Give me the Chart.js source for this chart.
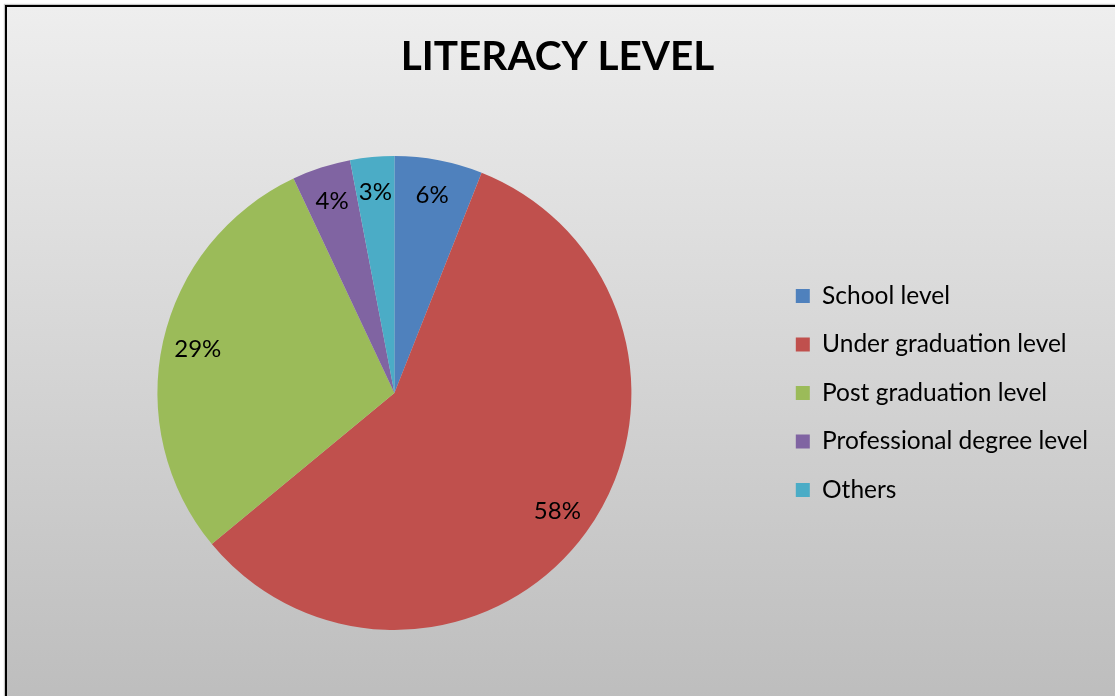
<!DOCTYPE html>
<html>
<head>
    <title>Literacy Level</title>
    <script src="https://cdn.jsdelivr.net/npm/chart.js"></script>
    <style>
        html, body {
            margin: 0;
            padding: 0;
            width: 1115px;
            height: 696px;
            overflow: hidden;
            background: #ffffff;
        }
        #frame {
            position: absolute;
            left: 5px;
            top: 5px;
            width: 1130px;
            height: 710px;
            border: 2px solid #000000;
            box-shadow: -1px -1px 1px #c8c8c8;
            background: linear-gradient(to bottom, #eeeeee 0%, #bcbcbc 100%);
        }
        #literacyChart {
            position: absolute;
            left: 0;
            top: 0;
        }
    </style>
</head>
<body>
    <div id="frame"></div>
    <canvas id="literacyChart" width="1115" height="696"></canvas>

    <script>
        const categories = [
            "School level",
            "Under graduation level",
            "Post graduation level",
            "Professional degree level",
            "Others"
        ];
        const shares = [6, 58, 29, 4, 3];
        const sliceColors = ["#4F81BD", "#C0504D", "#9BBB59", "#8064A2", "#4BACC6"];

        const fontFamily = "Lato, 'Open Sans', sans-serif";

        // percentage text drawn inside each slice
        const sliceLabels = {
            id: "sliceLabels",
            afterDatasetsDraw(chart) {
                const ctx = chart.ctx;
                const meta = chart.getDatasetMeta(0);
                ctx.save();
                ctx.font = "24px " + fontFamily;
                ctx.fillStyle = "#000000";
                ctx.textAlign = "center";
                ctx.textBaseline = "middle";
                meta.data.forEach((arc, i) => {
                    const p = arc.getProps(["x", "y", "startAngle", "endAngle", "outerRadius"], true);
                    const mid = (p.startAngle + p.endAngle) / 2;
                    const r = p.outerRadius * 0.85;
                    ctx.fillText(shares[i] + "%", p.x + Math.cos(mid) * r, p.y + Math.sin(mid) * r);
                });
                ctx.restore();
            }
        };

        new Chart(document.getElementById("literacyChart"), {
            type: "pie",
            data: {
                labels: categories,
                datasets: [{
                    data: shares,
                    backgroundColor: sliceColors,
                    borderWidth: 0
                }]
            },
            options: {
                responsive: false,
                animation: false,
                layout: {
                    padding: { left: 17, right: 17, top: 0, bottom: 66 }
                },
                plugins: {
                    title: {
                        display: true,
                        text: "LITERACY LEVEL",
                        color: "#000000",
                        font: { family: fontFamily, size: 40.5, weight: "bold", lineHeight: 1.2 },
                        padding: { top: 33, bottom: 74.4 }
                    },
                    legend: {
                        position: "right",
                        fullSize: false,
                        labels: {
                            color: "#000000",
                            font: { family: fontFamily, size: 24.5, lineHeight: 1.2 },
                            boxWidth: 14,
                            boxHeight: 14,
                            padding: 24
                        }
                    },
                    tooltip: { enabled: false }
                }
            },
            plugins: [sliceLabels]
        });
    </script>
</body>
</html>
